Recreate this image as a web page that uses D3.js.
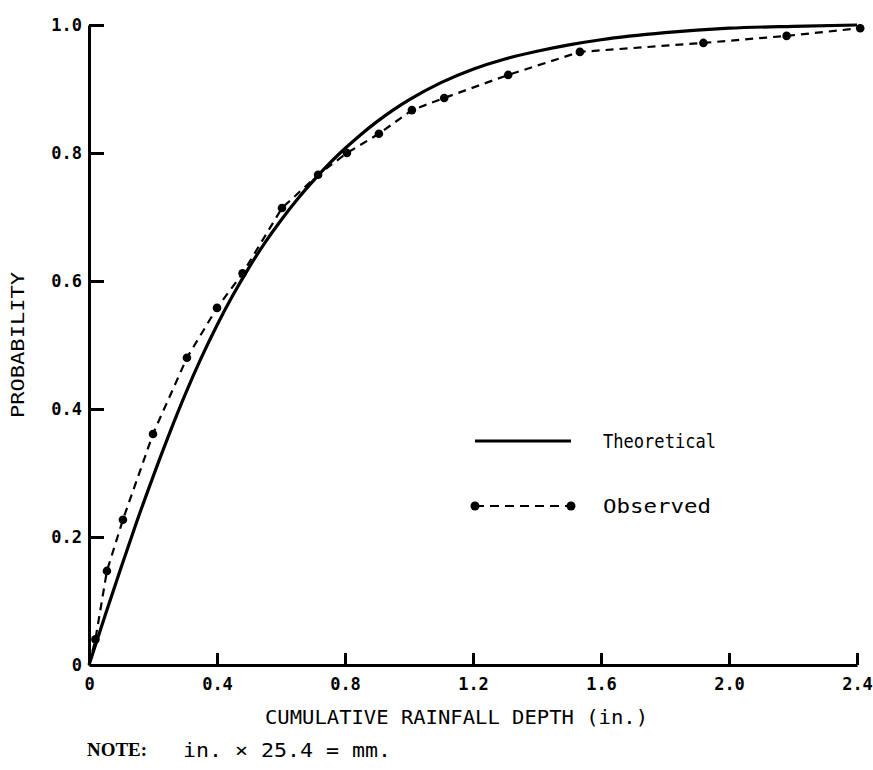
<!DOCTYPE html>
<html>
<head>
<meta charset="utf-8">
<script src="https://cdn.jsdelivr.net/npm/d3@7"></script>
<style>
  body { margin: 0; background: #fff; }
  svg { display: block; }
  text { fill: #000; }
</style>
</head>
<body>
<svg id="chart" width="873" height="770"></svg>
<script>
// ---- data ----
const xTicks = [0, 0.4, 0.8, 1.2, 1.6, 2.0, 2.4];
const xTickLabels = ["0", "0.4", "0.8", "1.2", "1.6", "2.0", "2.4"];
const yTicks = [0, 0.2, 0.4, 0.6, 0.8, 1.0];
const yTickLabels = ["0", "0.2", "0.4", "0.6", "0.8", "1.0"];

const theoreticalX = [0, 0.05, 0.1, 0.15, 0.2, 0.25, 0.3, 0.35, 0.4, 0.45, 0.5, 0.55, 0.6, 0.65, 0.7, 0.75, 0.8, 0.85, 0.9, 0.95, 1.0, 1.1, 1.2, 1.3, 1.4, 1.5, 1.6, 1.8, 2.0, 2.2, 2.4];
const theoreticalY = [0, 0.077, 0.152, 0.225, 0.294, 0.36, 0.422, 0.479, 0.531, 0.578, 0.621, 0.66, 0.695, 0.727, 0.756, 0.783, 0.807, 0.829, 0.849, 0.867, 0.883, 0.91, 0.931, 0.947, 0.959, 0.969, 0.977, 0.988, 0.995, 0.998, 1.0];

const observedX = [0.02, 0.056, 0.106, 0.2, 0.306, 0.4, 0.48, 0.603, 0.716, 0.806, 0.906, 1.009, 1.11, 1.31, 1.534, 1.92, 2.18, 2.41];
const observedY = [0.04, 0.147, 0.227, 0.361, 0.48, 0.558, 0.612, 0.714, 0.766, 0.8, 0.83, 0.867, 0.886, 0.922, 0.958, 0.972, 0.983, 0.995];

const legendLabels = ["Theoretical", "Observed"];
const xTitle = "CUMULATIVE RAINFALL DEPTH (in.)";
const yTitle = "PROBABILITY";
const noteHead = "NOTE:";
const noteText = "in. \u00D7 25.4 = mm.";

// ---- chart ----
const svg = d3.select("#chart");
const mono = "'DejaVu Sans Mono', 'Liberation Mono', monospace";

const x = d3.scaleLinear().domain([0, 2.4]).range([89, 857]);
const y = d3.scaleLinear().domain([0, 1]).range([665, 25]);

// axes
const yAxis = d3.axisLeft(y)
  .tickValues(yTicks)
  .tickFormat((d, i) => yTickLabels[i])
  .tickSizeInner(-15)
  .tickSizeOuter(0)
  .tickPadding(7);
const xAxis = d3.axisBottom(x)
  .tickValues(xTicks)
  .tickFormat((d, i) => xTickLabels[i])
  .tickSizeInner(-12)
  .tickSizeOuter(0)
  .tickPadding(13);

const gy = svg.append("g").attr("transform", `translate(${x(0)},0)`).call(yAxis);
const gx = svg.append("g").attr("transform", `translate(0,${y(0)})`).call(xAxis);

[gx, gy].forEach(g => {
  g.select(".domain").attr("stroke", "#000").attr("stroke-width", 3);
  g.selectAll(".tick line").attr("stroke", "#000").attr("stroke-width", 3);
  g.selectAll(".tick text")
    .attr("font-family", mono)
    .attr("font-size", 17)
    .attr("font-weight", "bold")
    .attr("fill", "#000");
});
gy.selectAll(".tick").filter(d => d === 0).select("line").remove();
gx.selectAll(".tick").filter(d => d === 0).select("line").remove();

// theoretical curve
const theo = theoreticalX.map((v, i) => [v, theoreticalY[i]]);
const obs = observedX.map((v, i) => [v, observedY[i]]);

const lineGen = d3.line()
  .x(d => x(d[0]))
  .y(d => y(d[1]))
  .curve(d3.curveMonotoneX);

svg.append("path")
  .datum(theo)
  .attr("d", lineGen)
  .attr("fill", "none")
  .attr("stroke", "#000")
  .attr("stroke-width", 3.2);

const obsLine = d3.line()
  .x(d => x(d[0]))
  .y(d => y(d[1]));

svg.append("path")
  .datum([[0, 0]].concat(obs))
  .attr("d", obsLine)
  .attr("fill", "none")
  .attr("stroke", "#000")
  .attr("stroke-width", 2.2)
  .attr("stroke-dasharray", "8,6");

svg.append("g").selectAll("circle")
  .data(obs)
  .join("circle")
  .attr("cx", d => x(d[0]))
  .attr("cy", d => y(d[1]))
  .attr("r", 4.3)
  .attr("fill", "#000");

// legend
const lg = svg.append("g");
lg.append("line")
  .attr("x1", 475).attr("x2", 571).attr("y1", 441).attr("y2", 441)
  .attr("stroke", "#000").attr("stroke-width", 3);
lg.append("line")
  .attr("x1", 475).attr("x2", 571).attr("y1", 506).attr("y2", 506)
  .attr("stroke", "#000").attr("stroke-width", 2.2).attr("stroke-dasharray", "9,6");
lg.selectAll("circle").data([475, 571]).join("circle")
  .attr("cx", d => d).attr("cy", 506).attr("r", 4.5).attr("fill", "#000");
lg.append("text")
  .attr("x", 603).attr("y", 448)
  .attr("font-family", mono).attr("font-size", 20)
  .attr("textLength", 113).attr("lengthAdjust", "spacingAndGlyphs")
  .text(legendLabels[0]);
lg.append("text")
  .attr("x", 603).attr("y", 513)
  .attr("font-family", mono).attr("font-size", 20)
  .attr("textLength", 108).attr("lengthAdjust", "spacingAndGlyphs")
  .text(legendLabels[1]);

// axis titles
svg.append("text")
  .attr("x", 265).attr("y", 724)
  .attr("font-family", mono).attr("font-size", 19)
  .attr("textLength", 383).attr("lengthAdjust", "spacingAndGlyphs")
  .text(xTitle);

svg.append("text")
  .attr("transform", "translate(24,418) rotate(-90)")
  .attr("x", 0).attr("y", 0)
  .attr("font-family", mono).attr("font-size", 18)
  .attr("textLength", 146).attr("lengthAdjust", "spacingAndGlyphs")
  .text(yTitle);

// note
svg.append("text")
  .attr("x", 87).attr("y", 756)
  .attr("font-family", "'Liberation Serif', 'DejaVu Serif', serif")
  .attr("font-size", 18).attr("font-weight", "bold")
  .attr("textLength", 60).attr("lengthAdjust", "spacingAndGlyphs")
  .text(noteHead);
svg.append("text")
  .attr("x", 183).attr("y", 757)
  .attr("font-family", mono).attr("font-size", 19)
  .attr("textLength", 208).attr("lengthAdjust", "spacingAndGlyphs")
  .text(noteText);
</script>
</body>
</html>
